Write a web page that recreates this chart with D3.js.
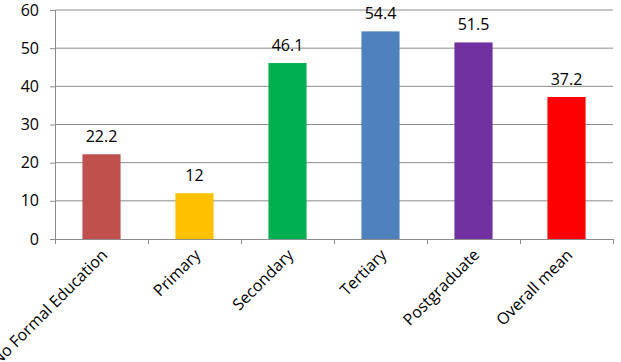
<!DOCTYPE html>
<meta charset="utf-8">
<script src="https://d3js.org/d3.v7.min.js"></script>
<style>
  body { margin: 0; background: #fff; }
  text { font-family: "Open Sans", sans-serif; fill: #000; }
</style>
<div id="chart"></div>
<script>
// data
var categories = ["No Formal Education", "Primary", "Secondary", "Tertiary", "Postgraduate", "Overall mean"];
var values = [22.2, 12, 46.1, 54.4, 51.5, 37.2];
var labels = ["22.2", "12", "46.1", "54.4", "51.5", "37.2"];
var colors = ["#C0504D", "#FFC000", "#00B050", "#4F81BD", "#7030A0", "#FF0000"];
var yTicks = [0, 10, 20, 30, 40, 50, 60];

var W = 621, H = 362;
var margin = {top: 10, right: 8, bottom: 123, left: 55},
    width = W - margin.left - margin.right,
    height = H - margin.top - margin.bottom;

var svg = d3.select("#chart").append("svg")
    .attr("width", W)
    .attr("height", H)
  .append("g")
    .attr("transform", "translate(" + margin.left + "," + margin.top + ")");

// band for the category slots (ticks go on the edges)
var slot = d3.scaleBand().domain(categories).range([0, width]).padding(0);
// bars, narrower and centred in each slot
var x = d3.scaleBand().domain(categories).range([0, width])
    .paddingInner(0.59).paddingOuter(0.295);

var y = d3.scaleLinear().domain([0, 60]).range([height, 0]);

// gridlines
svg.selectAll(".grid")
  .data(yTicks.filter(function(d) { return d > 0; }))
  .enter().append("line")
    .attr("x1", 0).attr("x2", width)
    .attr("y1", function(d) { return y(d); })
    .attr("y2", function(d) { return y(d); })
    .attr("stroke", "#8c8c8c").attr("stroke-width", 1);

// y axis
var yAxis = svg.append("g")
  .call(d3.axisLeft(y).tickValues(yTicks).tickSize(5).tickPadding(11));
yAxis.select(".domain").attr("stroke", "#8c8c8c");
yAxis.selectAll(".tick line").attr("stroke", "#8c8c8c");
yAxis.selectAll("text").style("font-size", "16px").style("font-family", "'Open Sans', sans-serif").attr("fill", "#000");

// bars
svg.selectAll(".bar")
  .data(values)
  .enter().append("rect")
    .attr("x", function(d, i) { return x(categories[i]); })
    .attr("y", function(d) { return y(d); })
    .attr("width", x.bandwidth())
    .attr("height", function(d) { return height - y(d); })
    .attr("fill", function(d, i) { return colors[i]; });

// value labels
svg.selectAll(".val")
  .data(values)
  .enter().append("text")
    .attr("x", function(d, i) { return x(categories[i]) + x.bandwidth() / 2; })
    .attr("y", function(d) { return y(d) - 12; })
    .attr("text-anchor", "middle")
    .style("font-size", "16px")
    .text(function(d, i) { return labels[i]; });

// x axis line + ticks at slot edges
svg.append("line")
    .attr("x1", 0).attr("x2", width)
    .attr("y1", height + 0.5).attr("y2", height + 0.5)
    .attr("stroke", "#8c8c8c");
var edges = categories.map(function(c) { return slot(c); }).concat([width]);
svg.selectAll(".xtick")
  .data(edges)
  .enter().append("line")
    .attr("x1", function(d) { return Math.round(d) + 0.5; })
    .attr("x2", function(d) { return Math.round(d) + 0.5; })
    .attr("y1", height).attr("y2", height + 5)
    .attr("stroke", "#8c8c8c");

// rotated category labels
svg.selectAll(".cat")
  .data(categories)
  .enter().append("text")
    .attr("transform", function(d) {
      return "translate(" + (slot(d) + slot.bandwidth() / 2 + 3) + "," + (height + 13) + ") rotate(-45)";
    })
    .attr("text-anchor", "end")
    .attr("dy", "0.35em")
    .style("font-size", "16px")
    .text(function(d) { return d; });
</script>
